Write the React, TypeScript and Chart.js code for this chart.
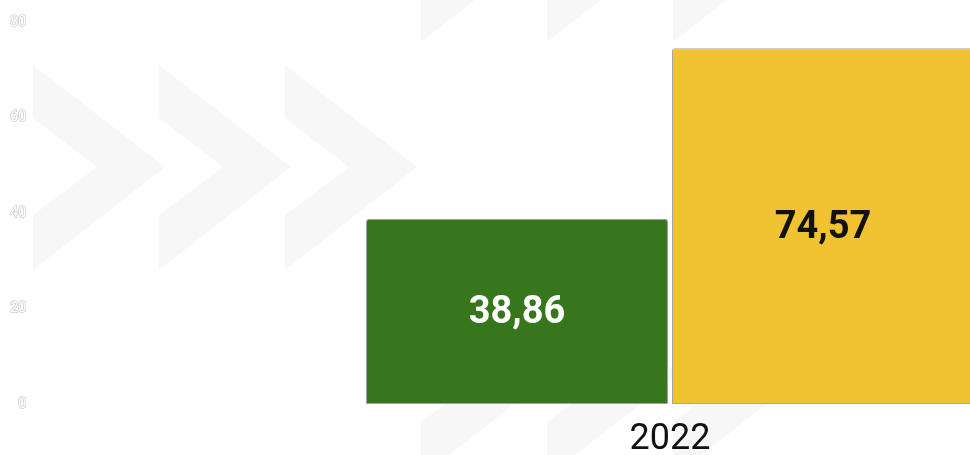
import React, { useEffect, useRef } from "react";
import { Chart, registerables } from "chart.js";

Chart.register(...registerables);

const categories = ["2022"];
const seriesA = [38.86];
const seriesB = [74.57];
const yTicks = [0, 20, 40, 60, 80];

const GREEN = "#38761d";
const YELLOW = "#f1c232";

// decorative chevron background (page coordinates)
const chevronSpots: [number, number][] = [
  [33, 65], [159, 65], [285, 65],
  [421, -163], [547, -163], [673, -163],
  [421, 272], [547, 272], [673, 272],
];

const fmt = (v: number) => v.toFixed(2).replace(".", ",");

const valueLabels = {
  id: "valueLabels",
  afterDatasetsDraw(chart: any) {
    const ctx = chart.ctx;
    chart.data.datasets.forEach((ds: any, di: number) => {
      const meta = chart.getDatasetMeta(di);
      meta.data.forEach((bar: any, i: number) => {
        const v = ds.data[i];
        const { x, y, base } = bar.getProps(["x", "y", "base"], true);
        ctx.save();
        ctx.font = "bold 38px Roboto";
        ctx.fillStyle = ds.labelColor;
        ctx.textAlign = "center";
        ctx.textBaseline = "middle";
        ctx.fillText(fmt(v), x, (y + base) / 2 + 2);
        ctx.restore();
      });
    });
  },
};

export default function App() {
  const ref = useRef<HTMLCanvasElement>(null);
  useEffect(() => {
    if (!ref.current) return;
    const chart = new Chart(ref.current, {
      type: "bar",
      data: {
        labels: categories,
        datasets: [
          {
            data: seriesA,
            backgroundColor: GREEN,
            borderColor: "#a3a3a3",
            borderWidth: 1,
            borderSkipped: false,
            borderRadius: { topLeft: 3, topRight: 3 },
            labelColor: "#ffffff",
          } as any,
          {
            data: seriesB,
            backgroundColor: YELLOW,
            borderColor: "#a3a3a3",
            borderWidth: 1,
            borderSkipped: false,
            borderRadius: { topLeft: 3, topRight: 3 },
            labelColor: "#111111",
          } as any,
        ],
      },
      options: {
        responsive: false,
        animation: false,
        categoryPercentage: 0.4796,
        barPercentage: 0.987,
        layout: { padding: { top: 12, right: 0, bottom: 0, left: 0 } },
        plugins: { legend: { display: false }, tooltip: { enabled: false } },
        scales: {
          x: {
            afterFit: (s: any) => {
              s.height = 57;
            },
            grid: { display: false, drawTicks: false },
            border: { display: false },
            ticks: {
              color: "#111111",
              font: { family: "Roboto", size: 36 },
              padding: 14,
            },
          },
          y: {
            min: 0,
            max: 80,
            afterBuildTicks: (s: any) => {
              s.ticks = yTicks.map((v) => ({ value: v }));
            },
            afterFit: (s: any) => {
              s.width = 24;
            },
            grid: { display: false, drawTicks: false },
            border: { display: false },
            ticks: {
              color: "#ffffff",
              textStrokeColor: "#cdcdcd",
              textStrokeWidth: 1.5,
              font: { family: "Roboto", size: 14 },
              padding: 6,
            } as any,
          },
        },
      },
      plugins: [valueLabels],
    });
    return () => chart.destroy();
  }, []);

  const chevron = "M0 0 L132 102 L0 205 L0 150 L64 102 L0 53 Z";

  return (
    <div
      style={{
        position: "fixed",
        left: 0,
        top: 0,
        width: 970,
        height: 455,
        overflow: "hidden",
        background: "#ffffff",
      }}
    >
      <svg width={970} height={455} style={{ position: "absolute", left: 0, top: 0 }}>
        {chevronSpots.map(([x, y], i) => (
          <path key={i} d={chevron} transform={`translate(${x} ${y})`} fill="#f7f7f7" />
        ))}
      </svg>
      <canvas
        ref={ref}
        width={1300}
        height={453}
        style={{ position: "absolute", left: 8, top: 8, display: "block" }}
      />
    </div>
  );
}
